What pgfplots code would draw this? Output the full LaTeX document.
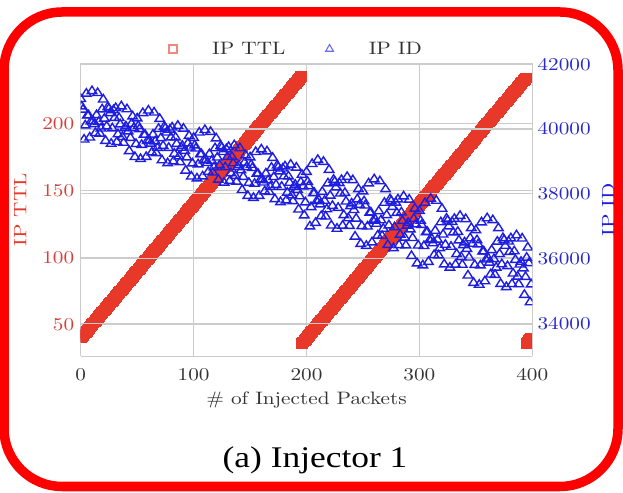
\documentclass[border=0pt]{standalone}
\usepackage{fontspec}
\setmainfont{lmroman10-regular.otf}[FakeStretch=1.18]
\newfontfamily\capfont{Liberation Serif}[FakeStretch=1.18]
\usepackage{pgfplots}
\pgfplotsset{compat=1.18}
\definecolor{ttlred}{RGB}{232,56,42}
\definecolor{ttltick}{RGB}{214,64,58}
\definecolor{idblue}{RGB}{30,30,225}
\definecolor{idtick}{RGB}{40,40,205}
\definecolor{gridgray}{RGB}{204,204,204}
\newcommand\f{\fontsize{18}{21}\selectfont}
\pgfplotsset{
  /pgf/number format/assume math mode=true,
  /pgf/number format/1000 sep={},
  base/.style={
    at={(80.7pt,135.8pt)}, anchor=south west,
    scale only axis, width=451.6pt, height=292.7pt,
    xmin=0, xmax=400,
    major tick length=0pt,
    clip marker paths=true,
    tick label style={font=\f},
    label style={font=\f},
    axis line style={gridgray, line width=1.3pt},
    grid style={gridgray, line width=1.2pt},
  }
}
\begin{document}
\begin{tikzpicture}
\useasboundingbox (0,0) rectangle (623pt,492pt);
\fill[white] (0,0) rectangle (623pt,492pt);
\begin{axis}[base,
  ymin=26.2, ymax=244.6,
  xtick={0,100,200,300,400}, ytick={50,100,150,200},
  axis y line*=left,
  grid=major,
  xticklabel style={anchor=center, yshift=-18.6pt, text=black!80},
  yticklabel style={text=ttltick, xshift=-3pt},
  xlabel={\# of Injected Packets},
  ylabel={IP TTL},
  xlabel style={at={(axis description cs:0.5,-0.151)}, anchor=center, text=black!80},
  ylabel style={at={(axis description cs:-0.134,0.5)}, anchor=center, text=ttlred},
]
\addplot[only marks, mark=square*, mark size=4.7pt, mark options={draw=ttlred, fill=ttlred, line width=0.4pt, xscale=1.18}] coordinates {
(0,40)(1,41)(2,42)(3,43)(4,44)(5,45)(6,46)(7,47)(8,48)(9,49)(10,50)(11,51)(12,52)(13,53)(14,54)(15,55)(16,56)(17,57)(18,58)(19,59)
(20,60)(21,61)(22,62)(23,63)(24,64)(25,65)(26,66)(27,67)(28,68)(29,69)(30,70)(31,71)(32,72)(33,73)(34,74)(35,75)(36,76)(37,77)(38,78)(39,79)
(40,80)(41,81)(42,82)(43,83)(44,84)(45,85)(46,86)(47,87)(48,88)(49,89)(50,90)(51,91)(52,92)(53,93)(54,94)(55,95)(56,96)(57,97)(58,98)(59,99)
(60,100)(61,101)(62,102)(63,103)(64,104)(65,105)(66,106)(67,107)(68,108)(69,109)(70,110)(71,111)(72,112)(73,113)(74,114)(75,115)(76,116)(77,117)(78,118)(79,119)
(80,120)(81,121)(82,122)(83,123)(84,124)(85,125)(86,126)(87,127)(88,128)(89,129)(90,130)(91,131)(92,132)(93,133)(94,134)(95,135)(96,136)(97,137)(98,138)(99,139)
(100,140)(101,141)(102,142)(103,143)(104,144)(105,145)(106,146)(107,147)(108,148)(109,149)(110,150)(111,151)(112,152)(113,153)(114,154)(115,155)(116,156)(117,157)(118,158)(119,159)
(120,160)(121,161)(122,162)(123,163)(124,164)(125,165)(126,166)(127,167)(128,168)(129,169)(130,170)(131,171)(132,172)(133,173)(134,174)(135,175)(136,176)(137,177)(138,178)(139,179)
(140,180)(141,181)(142,182)(143,183)(144,184)(145,185)(146,186)(147,187)(148,188)(149,189)(150,190)(151,191)(152,192)(153,193)(154,194)(155,195)(156,196)(157,197)(158,198)(159,199)
(160,200)(161,201)(162,202)(163,203)(164,204)(165,205)(166,206)(167,207)(168,208)(169,209)(170,210)(171,211)(172,212)(173,213)(174,214)(175,215)(176,216)(177,217)(178,218)(179,219)
(180,220)(181,221)(182,222)(183,223)(184,224)(185,225)(186,226)(187,227)(188,228)(189,229)(190,230)(191,231)(192,232)(193,233)(194,234)(195,235)
(196,36)(197,37)(198,38)(199,39)(200,40)(201,41)(202,42)(203,43)(204,44)(205,45)(206,46)(207,47)(208,48)(209,49)
(210,50)(211,51)(212,52)(213,53)(214,54)(215,55)(216,56)(217,57)(218,58)(219,59)(220,60)(221,61)(222,62)(223,63)(224,64)(225,65)(226,66)(227,67)(228,68)(229,69)
(230,70)(231,71)(232,72)(233,73)(234,74)(235,75)(236,76)(237,77)(238,78)(239,79)(240,80)(241,81)(242,82)(243,83)(244,84)(245,85)(246,86)(247,87)(248,88)(249,89)
(250,90)(251,91)(252,92)(253,93)(254,94)(255,95)(256,96)(257,97)(258,98)(259,99)(260,100)(261,101)(262,102)(263,103)(264,104)(265,105)(266,106)(267,107)(268,108)(269,109)
(270,110)(271,111)(272,112)(273,113)(274,114)(275,115)(276,116)(277,117)(278,118)(279,119)(280,120)(281,121)(282,122)(283,123)(284,124)(285,125)(286,126)(287,127)(288,128)(289,129)
(290,130)(291,131)(292,132)(293,133)(294,134)(295,135)(296,136)(297,137)(298,138)(299,139)(300,140)(301,141)(302,142)(303,143)(304,144)(305,145)(306,146)(307,147)(308,148)(309,149)
(310,150)(311,151)(312,152)(313,153)(314,154)(315,155)(316,156)(317,157)(318,158)(319,159)(320,160)(321,161)(322,162)(323,163)(324,164)(325,165)(326,166)(327,167)(328,168)(329,169)
(330,170)(331,171)(332,172)(333,173)(334,174)(335,175)(336,176)(337,177)(338,178)(339,179)(340,180)(341,181)(342,182)(343,183)(344,184)(345,185)(346,186)(347,187)(348,188)(349,189)
(350,190)(351,191)(352,192)(353,193)(354,194)(355,195)(356,196)(357,197)(358,198)(359,199)(360,200)(361,201)(362,202)(363,203)(364,204)(365,205)(366,206)(367,207)(368,208)(369,209)
(370,210)(371,211)(372,212)(373,213)(374,214)(375,215)(376,216)(377,217)(378,218)(379,219)(380,220)(381,221)(382,222)(383,223)(384,224)(385,225)(386,226)(387,227)(388,228)(389,229)
(390,230)(391,231)(392,232)(393,233)(394,234)
(395,36)(396,37)(397,38)(398,39)(399,40)
};
\end{axis}
\begin{axis}[base,
  ymin=32990, ymax=42020,
  scaled y ticks=false,
  axis y line*=right, axis x line=none,
  ytick={34000,36000,38000,40000,42000},
  ymajorgrids=true,
  yticklabel style={text=idtick, xshift=1.7pt},
  ylabel={IP ID},
  ylabel style={at={(axis description cs:1.168,0.5)}, anchor=center, text=idblue},
  legend style={at={(axis description cs:0.431,1.0495)}, anchor=center, draw=none, fill=none, inner sep=0pt, font=\f, legend columns=2, /tikz/column sep=0pt, nodes={inner sep=0pt, text=black!80}},
]
\addlegendimage{legend image code/.code={\draw[ttlred!60!white, line width=1.1pt] plot[mark=square, mark size=4pt] coordinates {(0pt,0pt)}; \path (-44pt,0pt) (39pt,0pt);}}
\addlegendentry{IP TTL}
\addlegendimage{legend image code/.code={\draw[idblue!65!white, line width=1.1pt] plot[mark=triangle, mark size=4.5pt] coordinates {(0pt,0pt)}; \path (-44pt,0pt) (39pt,0pt);}}
\addlegendentry{IP ID}
\addplot[only marks, mark=triangle, mark size=5pt, mark options={draw=idblue, line width=1.4pt, xscale=1.1}, forget plot] table[row sep=\\] {
x y\\
0 40925\\ 1 40695\\ 2 40597\\ 3 39674\\ 4 40110\\ 5 41090\\ 6 40421\\ 7 40423\\ 8 39737\\ 9 40230\\
10 41169\\ 11 40247\\ 12 40149\\ 13 39876\\ 14 40427\\ 15 41109\\ 16 40217\\ 17 39857\\ 18 40016\\ 19 40605\\
20 40910\\ 21 40319\\ 22 39635\\ 23 40079\\ 24 40672\\ 25 40625\\ 26 40491\\ 27 39545\\ 28 40019\\ 29 40579\\
30 40340\\ 31 40645\\ 32 39599\\ 33 39836\\ 34 40339\\ 35 40141\\ 36 40699\\ 37 39753\\ 38 39576\\ 39 40022\\
40 40081\\ 41 40609\\ 42 39925\\ 43 39317\\ 44 39724\\ 45 40160\\ 46 40387\\ 47 40027\\ 48 39134\\ 49 39537\\
50 40325\\ 51 40095\\ 52 39997\\ 53 39074\\ 54 39510\\ 55 40490\\ 56 39821\\ 57 39823\\ 58 39137\\ 59 39630\\
60 40569\\ 61 39647\\ 62 39549\\ 63 39276\\ 64 39827\\ 65 40509\\ 66 39617\\ 67 39257\\ 68 39416\\ 69 40005\\
70 40310\\ 71 39719\\ 72 39035\\ 73 39479\\ 74 40072\\ 75 40025\\ 76 39891\\ 77 38945\\ 78 39419\\ 79 39979\\
80 39740\\ 81 40045\\ 82 38999\\ 83 39236\\ 84 39739\\ 85 39541\\ 86 40099\\ 87 39153\\ 88 38976\\ 89 39422\\
90 39481\\ 91 40009\\ 92 39325\\ 93 38717\\ 94 39124\\ 95 39560\\ 96 39787\\ 97 39427\\ 98 38534\\ 99 38937\\
100 39725\\ 101 39495\\ 102 39397\\ 103 38474\\ 104 38910\\ 105 39890\\ 106 39221\\ 107 39223\\ 108 38537\\ 109 39030\\
110 39969\\ 111 39047\\ 112 38949\\ 113 38676\\ 114 39227\\ 115 39909\\ 116 39017\\ 117 38657\\ 118 38816\\ 119 39405\\
120 39710\\ 121 39119\\ 122 38435\\ 123 38879\\ 124 39472\\ 125 39425\\ 126 39291\\ 127 38345\\ 128 38819\\ 129 39379\\
130 39140\\ 131 39445\\ 132 38399\\ 133 38636\\ 134 39139\\ 135 38941\\ 136 39499\\ 137 38553\\ 138 38376\\ 139 38822\\
140 38881\\ 141 39409\\ 142 38725\\ 143 38117\\ 144 38524\\ 145 38960\\ 146 39187\\ 147 38827\\ 148 37934\\ 149 38337\\
150 39125\\ 151 38895\\ 152 38797\\ 153 37874\\ 154 38310\\ 155 39290\\ 156 38621\\ 157 38623\\ 158 37937\\ 159 38430\\
160 39369\\ 161 38447\\ 162 38349\\ 163 38076\\ 164 38627\\ 165 39309\\ 166 38417\\ 167 38057\\ 168 38216\\ 169 38805\\
170 39110\\ 171 38519\\ 172 37835\\ 173 38279\\ 174 38872\\ 175 38825\\ 176 38691\\ 177 37745\\ 178 38219\\ 179 38779\\
180 38540\\ 181 38845\\ 182 37799\\ 183 38036\\ 184 38539\\ 185 38341\\ 186 38899\\ 187 37953\\ 188 37776\\ 189 38222\\
190 38281\\ 191 38809\\ 192 38125\\ 193 37517\\ 194 37924\\ 195 38360\\ 196 38587\\ 197 38227\\ 198 37334\\ 199 37737\\
200 38675\\ 201 38369\\ 202 38239\\ 203 36994\\ 204 37590\\ 205 38920\\ 206 38019\\ 207 38025\\ 208 37101\\ 209 37772\\
210 39047\\ 211 37805\\ 212 37675\\ 213 37311\\ 214 38061\\ 215 38987\\ 216 37785\\ 217 37301\\ 218 37522\\ 219 38323\\
220 38740\\ 221 37943\\ 222 37023\\ 223 37628\\ 224 38434\\ 225 38375\\ 226 38197\\ 227 36923\\ 228 37568\\ 229 38329\\
230 38010\\ 231 38427\\ 232 37017\\ 233 37342\\ 234 38027\\ 235 37763\\ 236 38521\\ 237 37247\\ 238 37011\\ 239 37618\\
240 37703\\ 241 38421\\ 242 37501\\ 243 36681\\ 244 37236\\ 245 37830\\ 246 38143\\ 247 37659\\ 248 36454\\ 249 37005\\
250 38075\\ 251 37769\\ 252 37639\\ 253 36394\\ 254 36990\\ 255 38320\\ 256 37419\\ 257 37425\\ 258 36501\\ 259 37172\\
260 38447\\ 261 37205\\ 262 37075\\ 263 36711\\ 264 37461\\ 265 38387\\ 266 37185\\ 267 36701\\ 268 36922\\ 269 37723\\
270 38140\\ 271 37343\\ 272 36423\\ 273 37028\\ 274 37834\\ 275 37775\\ 276 37597\\ 277 36323\\ 278 36968\\ 279 37729\\
280 37410\\ 281 37827\\ 282 36417\\ 283 36742\\ 284 37427\\ 285 37163\\ 286 37921\\ 287 36647\\ 288 36411\\ 289 37018\\
290 37103\\ 291 37821\\ 292 36901\\ 293 36081\\ 294 36636\\ 295 37230\\ 296 37543\\ 297 37059\\ 298 35854\\ 299 36405\\
300 37475\\ 301 37169\\ 302 37039\\ 303 35794\\ 304 36390\\ 305 37720\\ 306 36819\\ 307 36825\\ 308 35901\\ 309 36572\\
310 37847\\ 311 36605\\ 312 36475\\ 313 36111\\ 314 36861\\ 315 37787\\ 316 36585\\ 317 36101\\ 318 36322\\ 319 37123\\
320 37540\\ 321 36743\\ 322 35823\\ 323 36428\\ 324 37234\\ 325 37175\\ 326 36997\\ 327 35723\\ 328 36368\\ 329 37129\\
330 36810\\ 331 37227\\ 332 35817\\ 333 36142\\ 334 36827\\ 335 36563\\ 336 37321\\ 337 36047\\ 338 35811\\ 339 36418\\
340 36503\\ 341 37221\\ 342 36301\\ 343 35481\\ 344 36036\\ 345 36630\\ 346 36943\\ 347 36459\\ 348 35254\\ 349 35805\\
350 36875\\ 351 36569\\ 352 36439\\ 353 35194\\ 354 35790\\ 355 37120\\ 356 36219\\ 357 36225\\ 358 35301\\ 359 35972\\
360 37247\\ 361 36005\\ 362 35875\\ 363 35511\\ 364 36261\\ 365 37187\\ 366 35985\\ 367 35501\\ 368 35722\\ 369 36523\\
370 36940\\ 371 36143\\ 372 35223\\ 373 35828\\ 374 36634\\ 375 36575\\ 376 36397\\ 377 35123\\ 378 35768\\ 379 36529\\
380 36210\\ 381 36627\\ 382 35217\\ 383 35542\\ 384 36227\\ 385 35963\\ 386 36721\\ 387 35447\\ 388 35211\\ 389 35818\\
390 35903\\ 391 36621\\ 392 35701\\ 393 34881\\ 394 35436\\ 395 36030\\ 396 36343\\ 397 35859\\ 398 34654\\ 399 35205\\
};
\end{axis}
\node[font=\capfont\fontsize{30}{34}\selectfont, anchor=center] at (315pt,32pt) {(a) Injector 1};
\draw[red, line width=9.5pt, rounded corners=58pt] (4pt,5.5pt) rectangle (618pt,480pt);
\end{tikzpicture}
\end{document}
